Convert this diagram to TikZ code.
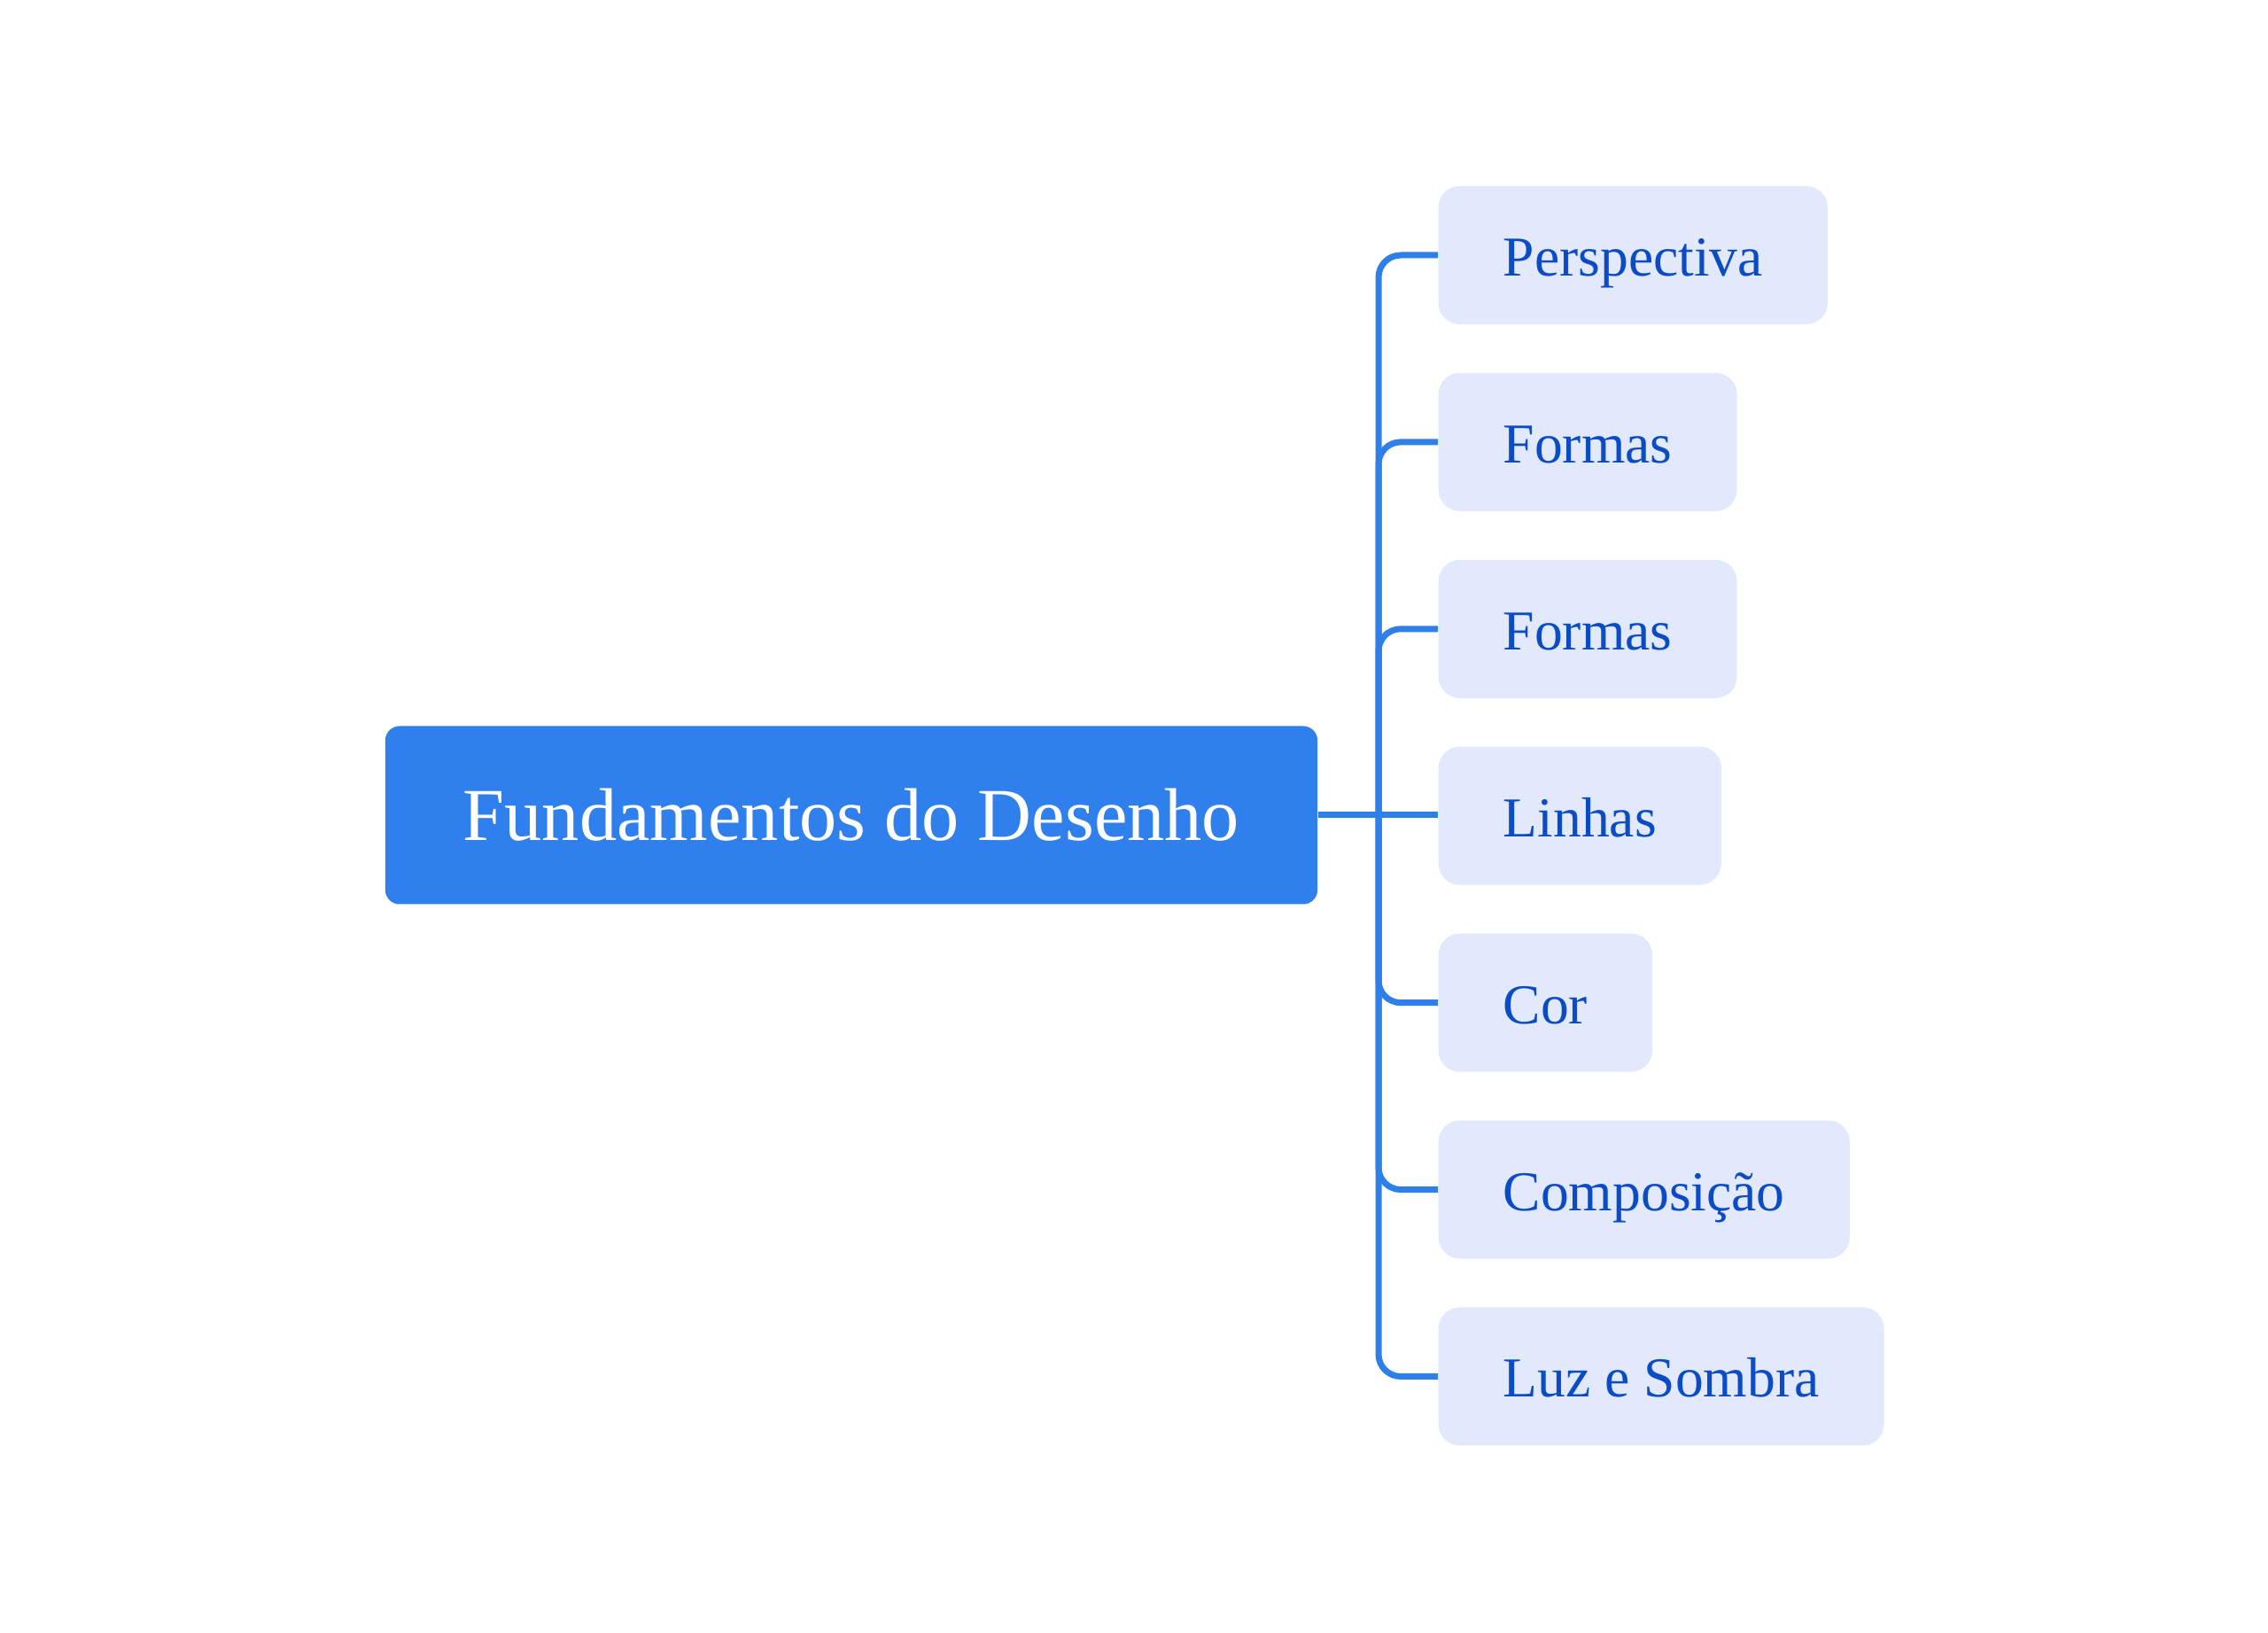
\documentclass[tikz,border=0pt]{standalone}
\usepackage{fontspec}
\setmainfont{Liberation Serif}
\usetikzlibrary{positioning}
\definecolor{rootblue}{HTML}{2F80EC}
\definecolor{leaffill}{HTML}{E2E9FC}
\definecolor{leaftext}{HTML}{0B4CC6}
\definecolor{linkblue}{HTML}{2F7FEA}
\begin{document}
\begin{tikzpicture}[node distance=0.535cm,
        root/.style={rectangle, fill=rootblue, text=white, rounded corners=0.16cm, inner xsep=0.88cm, minimum height=2.01cm, font=\fontsize{24}{28}\selectfont},
        leaf/.style={rectangle, fill=leaffill, text=leaftext, rounded corners=0.24cm, inner xsep=0.73cm, minimum height=1.56cm, text height=0.47cm, text depth=0pt, font=\fontsize{18.1}{22}\selectfont},
        link/.style={draw=linkblue, line width=0.07cm, rounded corners=0.25cm}]
        \useasboundingbox (0,0) rectangle (25.6,-18.43);

        % Central topic
        \node[root] (root) at (9.61,-9.20) {Fundamentos do Desenho};

        % Subtopics
        \node[leaf, anchor=west] (persp) at (16.23,-2.88) {Perspectiva};
        \node[leaf, below=of persp.south west, anchor=north west] (formasA) {Formas};
        \node[leaf, below=of formasA.south west, anchor=north west] (formasB) {Formas};
        \node[leaf, below=of formasB.south west, anchor=north west] (linhas) {Linhas};
        \node[leaf, below=of linhas.south west, anchor=north west] (cor) {Cor};
        \node[leaf, below=of cor.south west, anchor=north west] (compos) {Composição};
        \node[leaf, below=of compos.south west, anchor=north west] (luz) {Luz e Sombra};

        % Connectors
        \coordinate (hub) at (15.56,0 |- linhas.west);
        \draw[link] (root.east) -- (root.east -| linhas.west);
        \foreach \leafname in {persp, formasA, formasB, cor, compos, luz}
            \draw[link] (hub) |- (\leafname.west);

    \end{tikzpicture}
\end{document}
